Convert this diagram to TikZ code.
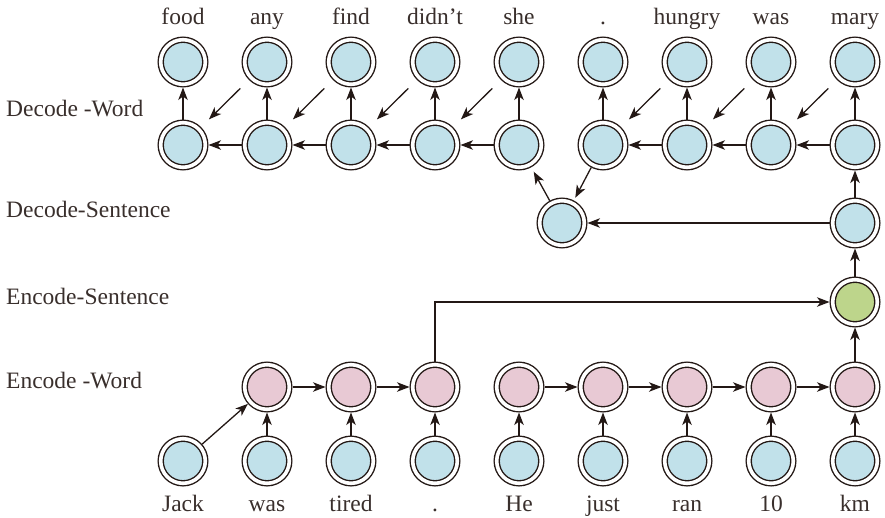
\documentclass[tikz,border=0pt]{standalone}
\usepackage{fontspec}
\setmainfont{Liberation Serif}
\usetikzlibrary{arrows.meta}
\definecolor{nblue}{HTML}{C1E1EA}
\definecolor{npink}{HTML}{E8C9D4}
\definecolor{ngreen}{HTML}{BDD58B}
\definecolor{ink}{HTML}{231815}
\begin{document}
\begin{tikzpicture}[x=1pt,y=-1pt,
  unit/.style={circle, draw=ink, line width=1.4pt, double=white, double distance=3.6pt,
    minimum size=44.6pt, inner sep=0pt, outer sep=3.2pt},
  wn/.style={unit, fill=nblue},
  en/.style={unit, fill=npink},
  sn/.style={unit, fill=ngreen},
  arr/.style={draw=ink, line width=1.3pt, -{Stealth[length=12.5pt,width=9.5pt,inset=3.5pt]}},
  lbl/.style={anchor=base, inner sep=0pt, font=\fontsize{23.5}{28}\selectfont, text=ink!90},
  rowlbl/.style={lbl, anchor=base west}]
\useasboundingbox (0,0) rectangle (885,517);

% row labels
\node[rowlbl] (rl1) at (6,116) {Decode -Word};
\node[rowlbl] (rl2) at (6,217) {Decode-Sentence};
\node[rowlbl] (rl3) at (6,304) {Encode-Sentence};
\node[rowlbl] (rl4) at (6,388) {Encode -Word};

% decode word rows
\foreach \w [count=\k from 0] in {food,any,find,didn’t,she,.,hungry,was,mary} {
  \node[lbl] (w\k) at (183+84*\k,24) {\w};
  \node[wn] (t\k) at (183+84*\k,62) {};
  \node[wn] (l\k) at (183+84*\k,145) {};
}
% decode sentence
\node[wn] (dsl) at (562,223) {};
\node[wn] (dsr) at (855,223) {};
% encode sentence
\node[sn] (g) at (855,302) {};
% encode word
\foreach \k in {1,...,8} {
  \node[en] (e\k) at (183+84*\k,387) {};
}
% inputs
\foreach \w [count=\k from 0] in {Jack,was,tired,.,He,just,ran,10,km} {
  \node[wn] (i\k) at (183+84*\k,461) {};
  \node[lbl] (b\k) at (183+84*\k,511) {\w};
}

% decode connectors
\foreach \k in {0,...,8} {
  \draw[arr] (l\k) -- (t\k);
}
\foreach \k/\j in {1/0,2/1,3/2,4/3,6/5,7/6,8/7} {
  \draw[arr] (l\k) -- (l\j);
  \draw[arr, shorten <=12pt, shorten >=11pt] (t\k) -- (l\j);
}
\draw[arr, shorten >=5pt] (dsl) -- (l4);
\draw[arr, shorten >=3pt] (l5) -- (dsl);
\draw[arr] (dsr) -- (dsl);
\draw[arr] (dsr) -- (l8);
\draw[arr] (g) -- (dsr);
\draw[arr] (e8) -- (g);
\draw[arr] (e3.north) |- (g.west);

% encode connectors
\foreach \k/\j in {1/2,2/3,4/5,5/6,6/7,7/8} {
  \draw[arr] (e\k) -- (e\j);
}
\foreach \k in {1,...,8} {
  \draw[arr] (i\k) -- (e\k);
}
\draw[arr] (i0) -- (e1);
\end{tikzpicture}
\end{document}
